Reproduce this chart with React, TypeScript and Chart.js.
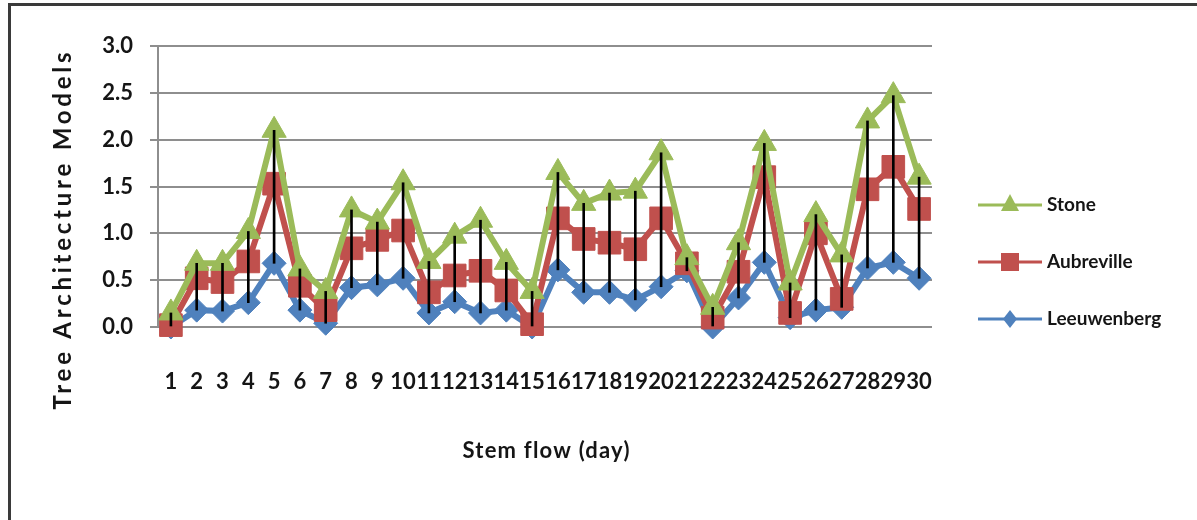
import React, { useEffect, useRef } from 'react';
import { Chart, registerables } from 'chart.js';

Chart.register(...registerables);

const days = ['1','2','3','4','5','6','7','8','9','10','11','12','13','14','15','16','17','18','19','20','21','22','23','24','25','26','27','28','29','30'];

const stone = [0.15, 0.68, 0.68, 1.02, 2.1, 0.62, 0.38, 1.25, 1.12, 1.54, 0.7, 0.97, 1.14, 0.69, 0.38, 1.65, 1.32, 1.43, 1.45, 1.86, 0.74, 0.21, 0.9, 1.96, 0.47, 1.2, 0.77, 2.2, 2.47, 1.6];
const aubreville = [0.02, 0.52, 0.48, 0.7, 1.53, 0.44, 0.18, 0.84, 0.93, 1.03, 0.37, 0.55, 0.6, 0.39, 0.03, 1.16, 0.94, 0.9, 0.83, 1.16, 0.68, 0.1, 0.59, 1.6, 0.15, 1.0, 0.3, 1.47, 1.71, 1.26];
const leeuwenberg = [0.0, 0.18, 0.17, 0.26, 0.68, 0.18, 0.04, 0.42, 0.45, 0.52, 0.15, 0.27, 0.15, 0.18, 0.0, 0.61, 0.37, 0.37, 0.29, 0.43, 0.6, 0.0, 0.31, 0.69, 0.1, 0.18, 0.21, 0.63, 0.69, 0.52];

const seriesNames = ['Stone', 'Aubreville', 'Leeuwenberg'];
const seriesColors = ['#9BBB59', '#C0504D', '#4F81BD'];
const yTitle = 'Tree Architecture Models';
const xTitle = 'Stem flow (day)';

const W = 1197;
const H = 520;
const FONT = 'Lato, "Open Sans", sans-serif';

const overlay = {
  id: 'overlay',
  afterDraw(chart: any) {
    const ctx = chart.ctx as CanvasRenderingContext2D;
    ctx.save();
    // outer frame
    ctx.strokeStyle = '#3a3a3a';
    ctx.lineWidth = 3;
    ctx.strokeRect(9.5, 4.5, W + 40, H + 40);

    const fitText = (text: string, x: number, y: number, target: number, rot: number, size: number) => {
      ctx.save();
      ctx.translate(x, y);
      ctx.rotate(rot);
      ctx.font = `bold ${size}px ${FONT}`;
      (ctx as any).letterSpacing = '0px';
      const w = ctx.measureText(text).width;
      const ls = (target - w) / (text.length - 1);
      (ctx as any).letterSpacing = `${ls}px`;
      ctx.fillStyle = '#151515';
      ctx.textAlign = 'center';
      ctx.textBaseline = 'middle';
      ctx.fillText(text, ls / 2, 0);
      ctx.restore();
    };
    fitText(yTitle, 63, 231, 357, -Math.PI / 2, 24);
    fitText(xTitle, 546, 451, 167, 0, 22);

    // legend
    const ys = [205, 262, 319];
    ctx.font = `bold 19px ${FONT}`;
    ctx.textAlign = 'left';
    ctx.textBaseline = 'middle';
    for (let i = 0; i < 3; i++) {
      const y = ys[i];
      const c = seriesColors[i];
      ctx.strokeStyle = c;
      ctx.fillStyle = c;
      ctx.lineWidth = 3;
      ctx.beginPath();
      ctx.moveTo(978, y);
      ctx.lineTo(1042, y);
      ctx.stroke();
      const cx = 1010;
      ctx.beginPath();
      if (i === 0) {
        ctx.moveTo(cx, y - 11);
        ctx.lineTo(cx + 9, y + 6);
        ctx.lineTo(cx - 9, y + 6);
        ctx.closePath();
      } else if (i === 1) {
        ctx.rect(cx - 9, y - 9, 18, 18);
      } else {
        ctx.moveTo(cx, y - 9);
        ctx.lineTo(cx + 7, y);
        ctx.lineTo(cx, y + 9);
        ctx.lineTo(cx - 7, y);
        ctx.closePath();
      }
      ctx.fill();
      ctx.fillStyle = '#151515';
      ctx.fillText(seriesNames[i], 1047, y);
    }
    ctx.restore();
  },
};

export default function App() {
  const ref = useRef<HTMLCanvasElement>(null);
  useEffect(() => {
    if (!ref.current) return;
    const highLow = days.map((_, i) => {
      const vals = [stone[i], aubreville[i], leeuwenberg[i]];
      return [Math.min(...vals), Math.max(...vals)];
    });
    const line = (label: string, data: number[], color: string, style: string, radius: number, order: number) => ({
      type: 'line' as const,
      label,
      data,
      borderColor: color,
      backgroundColor: color,
      borderWidth: 6,
      pointStyle: style,
      pointRadius: radius,
      pointBorderWidth: 1,
      pointBackgroundColor: color,
      pointBorderColor: color,
      tension: 0,
      clip: false as any,
      order,
    });
    const chart = new Chart(ref.current, {
      type: 'line',
      data: {
        labels: days,
        datasets: [
          {
            type: 'bar' as const,
            label: 'High-Low',
            data: highLow as any,
            backgroundColor: '#000',
            borderWidth: 0,
            barThickness: 2,
            order: 0,
          } as any,
          line(seriesNames[0], stone, seriesColors[0], 'triangle', 14, 1),
          line(seriesNames[1], aubreville, seriesColors[1], 'rect', 16, 2),
          line(seriesNames[2], leeuwenberg, seriesColors[2], 'rectRot', 12, 3),
        ],
      },
      options: {
        responsive: false,
        animation: false,
        layout: { padding: { left: 0, right: 265, top: 46, bottom: 0 } },
        plugins: { legend: { display: false }, tooltip: { enabled: false } },
        scales: {
          x: {
            type: 'category',
            offset: true,
            grid: { display: false, drawTicks: false },
            border: { display: false },
            ticks: {
              autoSkip: false,
              maxRotation: 0,
              minRotation: 0,
              padding: 42,
              color: '#151515',
              font: { family: FONT, size: 22, weight: 'bold' },
            },
            afterFit: (s: any) => { s.height = 193; },
          },
          y: {
            min: 0,
            max: 3,
            ticks: {
              stepSize: 0.5,
              padding: 17,
              color: '#151515',
              font: { family: FONT, size: 22, weight: 'bold' },
              callback: (v: any) => Number(v).toFixed(1),
            },
            grid: { color: '#8e8e8e', lineWidth: 2, tickLength: 8, drawTicks: true },
            border: { display: true, color: '#8e8e8e', width: 2 },
            afterFit: (s: any) => { s.width = 158; },
          },
        },
      },
      plugins: [overlay],
    });
    return () => chart.destroy();
  }, []);
  return (
    <div style={{ position: 'fixed', left: 0, top: 0, width: W, height: H, background: '#fff', overflow: 'hidden' }}>
      <canvas ref={ref} width={W} height={H} style={{ display: 'block' }} />
    </div>
  );
}
